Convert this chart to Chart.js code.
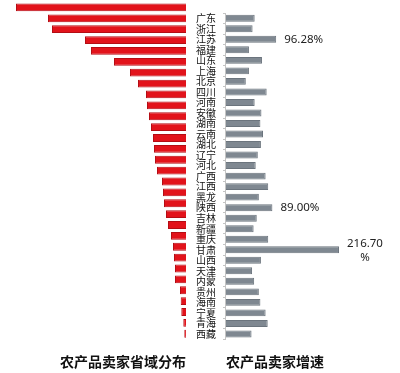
<!DOCTYPE html>
<html>
<head>
<meta charset="utf-8">
<script src="https://cdn.jsdelivr.net/npm/chart.js@4/dist/chart.umd.min.js"></script>
<style>
  body { margin: 0; background: #fff; }
  #wrap { position: relative; width: 400px; height: 373px; }
  #left-box { position: absolute; left: 0; top: 0; width: 188px; height: 373px; }
  #right-box { position: absolute; left: 188px; top: 0; width: 212px; height: 373px; }
</style>
</head>
<body>
<div id="wrap">
  <div id="left-box"><canvas id="left-chart"></canvas></div>
  <div id="right-box"><canvas id="right-chart"></canvas></div>
</div>
<script>
const provinces = ['广东', '浙江', '江苏', '福建', '山东', '上海', '北京', '四川', '河南', '安徽',
  '湖南', '云南', '湖北', '辽宁', '河北', '广西', '江西', '黑龙', '陕西', '吉林',
  '新疆', '重庆', '甘肃', '山西', '天津', '内蒙', '贵州', '海南', '宁夏', '青海', '西藏'];

// share of sellers (relative)
const sellerShare = [17.0, 13.8, 13.4, 10.1, 9.5, 7.2, 5.6, 4.8, 4.0, 3.9,
  3.7, 3.5, 3.3, 3.2, 3.1, 2.9, 2.4, 2.3, 2.2, 2.0,
  1.8, 1.5, 1.3, 1.2, 1.1, 1.1, 0.6, 0.53, 0.47, 0.27, 0.17];

// seller growth, %
const sellerGrowth = [55, 51, 96.28, 44, 69, 44, 38, 78, 55, 68,
  66, 71, 67, 61, 57, 76, 81, 63, 89.00, 59,
  53, 81, 216.70, 67, 50, 54, 63, 66, 76, 80, 49];

// bars that get a value label
const labelledProvinces = ['江苏', '陕西', '甘肃'];

const cjkFont = '"Noto Sans CJK SC", "Noto Sans", sans-serif';

// left side grows to the left, so plot it on the negative half
const leftCtx = document.getElementById('left-chart').getContext('2d');
new Chart(leftCtx, {
    type: 'bar',
    data: {
        labels: provinces,
        datasets: [{
            data: sellerShare.map(v => -v),
            backgroundColor: '#e2131b',
            borderColor: '#b40d14',
            borderWidth: 1,
            barPercentage: 0.72,
            categoryPercentage: 1
        }]
    },
    options: {
        indexAxis: 'y',
        responsive: true,
        maintainAspectRatio: false,
        animation: false,
        layout: { padding: { top: 2, right: 2, left: 0, bottom: 0 } },
        plugins: { legend: { display: false }, tooltip: { enabled: false } },
        scales: {
            x: {
                min: -18.6,
                max: 0,
                grid: { display: false },
                border: { display: false },
                ticks: { display: false },
                title: {
                    display: true,
                    text: '农产品卖家省域分布',
                    align: 'end',
                    color: '#111',
                    font: { family: cjkFont, size: 14, weight: 'bold' },
                    padding: { top: 6, bottom: 3 }
                }
            },
            y: { display: false }
        }
    }
});

// draws the value next to a few highlighted bars
const valueLabels = {
    id: 'valueLabels',
    afterDatasetsDraw(chart) {
        const ctx = chart.ctx;
        const meta = chart.getDatasetMeta(0);
        ctx.save();
        ctx.fillStyle = '#222';
        ctx.font = '11.5px "Noto Sans", sans-serif';
        ctx.textBaseline = 'middle';
        labelledProvinces.forEach(name => {
            const i = provinces.indexOf(name);
            const bar = meta.data[i];
            const v = sellerGrowth[i];
            if (v > 200) {
                const txt = v.toFixed(2);
                const w = ctx.measureText(txt).width;
                const cx = bar.x + 8 + w / 2;
                ctx.textAlign = 'center';
                ctx.fillText(txt, cx, bar.y - 6);
                ctx.fillText('%', cx, bar.y + 8);
            } else {
                ctx.textAlign = 'left';
                ctx.fillText(v.toFixed(2) + '%', bar.x + 8, bar.y);
            }
        });
        ctx.restore();
    }
};

const rightCtx = document.getElementById('right-chart').getContext('2d');
new Chart(rightCtx, {
    type: 'bar',
    data: {
        labels: provinces,
        datasets: [{
            data: sellerGrowth,
            backgroundColor: '#7f8891',
            borderColor: '#6b747d',
            borderWidth: 1,
            barPercentage: 0.66,
            categoryPercentage: 1
        }]
    },
    options: {
        indexAxis: 'y',
        responsive: true,
        maintainAspectRatio: false,
        animation: false,
        layout: { padding: { top: 2, right: 3, left: 1, bottom: 0 } },
        plugins: { legend: { display: false }, tooltip: { enabled: false } },
        scales: {
            x: {
                min: 0,
                max: 328,
                grid: { display: false },
                border: { display: false },
                ticks: { display: false },
                title: {
                    display: true,
                    text: '农产品卖家增速',
                    align: 'start',
                    color: '#111',
                    font: { family: cjkFont, size: 14, weight: 'bold' },
                    padding: { top: 6, bottom: 3 }
                }
            },
            y: {
                grid: { drawOnChartArea: false, tickLength: 3, color: '#c4c4c4' },
                border: { color: '#c4c4c4' },
                ticks: {
                    color: '#111',
                    padding: 7,
                    autoSkip: false,
                    font: { family: cjkFont, size: 10 }
                }
            }
        }
    },
    plugins: [valueLabels]
});
</script>
</body>
</html>
